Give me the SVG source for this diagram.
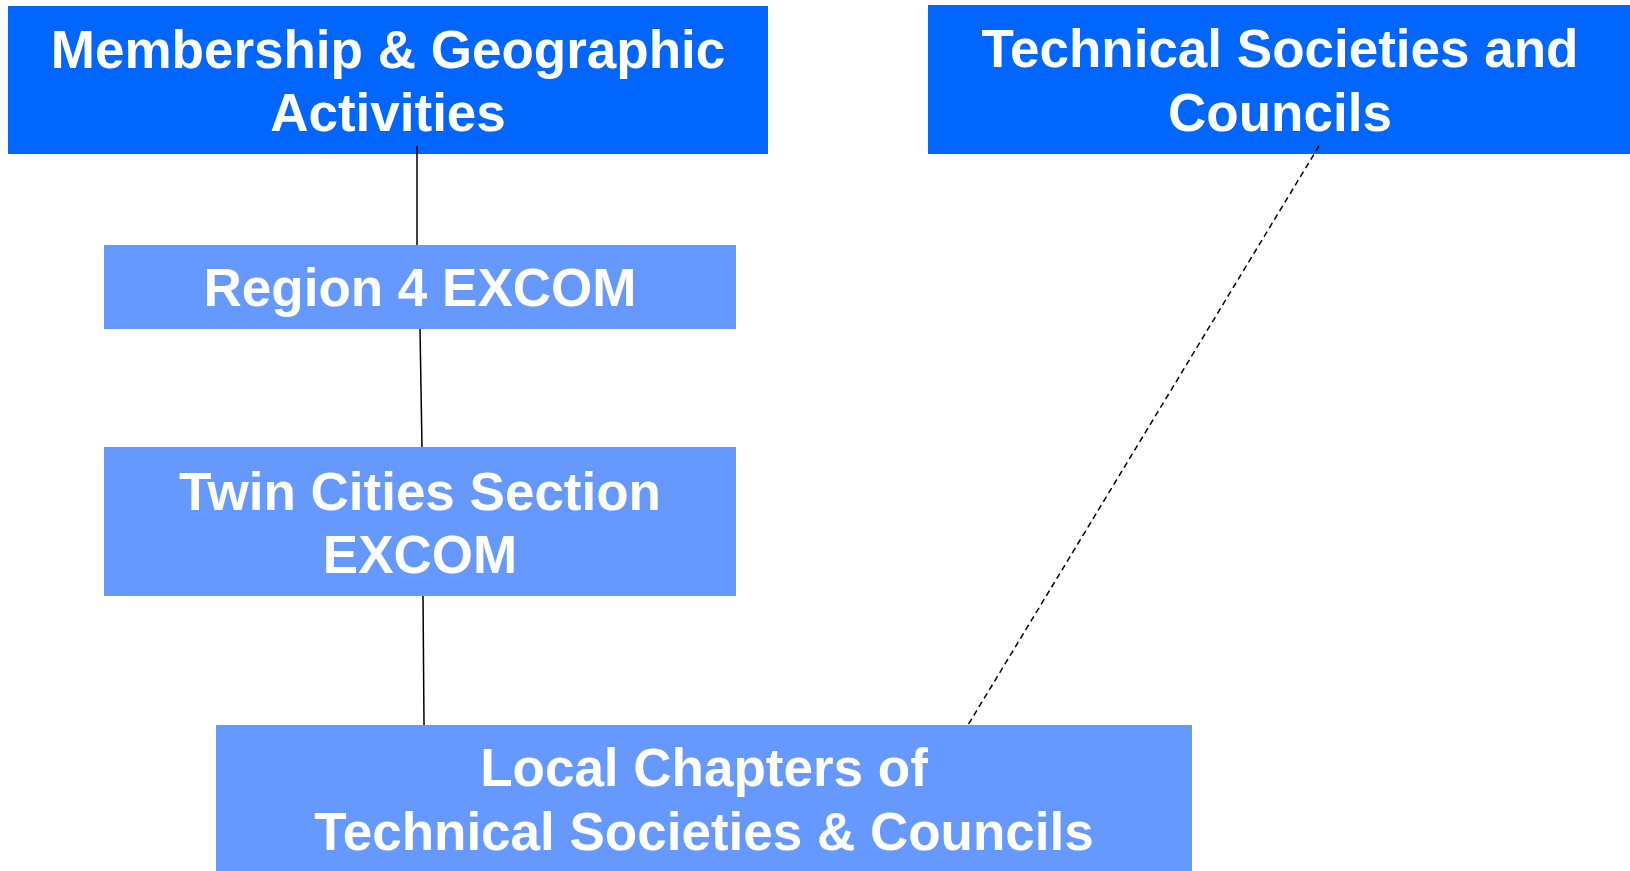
<svg xmlns="http://www.w3.org/2000/svg" width="1630" height="871" viewBox="0 0 1630 871">
<style>
.dark{fill:#0066FF}
.light{fill:#6699FF}
text{font-family:"Liberation Sans",Arial,sans-serif;font-weight:bold;font-size:53px;fill:#FFFFFF;text-anchor:middle}
.ln{stroke:#000000;stroke-width:1.5;fill:none}
.dash{stroke-dasharray:6,4}
</style>
<rect width="1630" height="871" fill="#FFFFFF"/>
<g id="node-membership">
<rect class="dark" x="8" y="6" width="760" height="148"/>
<text x="388" y="68">Membership &amp; Geographic</text>
<text x="388" y="131">Activities</text>
</g>
<g id="node-technical">
<rect class="dark" x="928" y="5" width="702" height="149"/>
<text x="1280" y="67">Technical Societies and</text>
<text x="1280" y="131">Councils</text>
</g>
<g id="node-region4">
<rect class="light" x="104" y="245" width="632" height="84"/>
<text x="420" y="306">Region 4 EXCOM</text>
</g>
<g id="node-twincities">
<rect class="light" x="104" y="447" width="632" height="149"/>
<text x="420" y="510">Twin Cities Section</text>
<text x="420" y="573">EXCOM</text>
</g>
<g id="node-local">
<rect class="light" x="216" y="725" width="976" height="146"/>
<text x="704" y="786">Local Chapters of</text>
<text x="704" y="850">Technical Societies &amp; Councils</text>
</g>
<g id="connectors">
<line class="ln" x1="417" y1="146" x2="417" y2="245"/>
<line class="ln" x1="420" y1="329" x2="422" y2="447"/>
<line class="ln" x1="423" y1="596" x2="424" y2="725"/>
<line class="ln dash" x1="1319" y1="146" x2="968" y2="725"/>
</g>
</svg>
